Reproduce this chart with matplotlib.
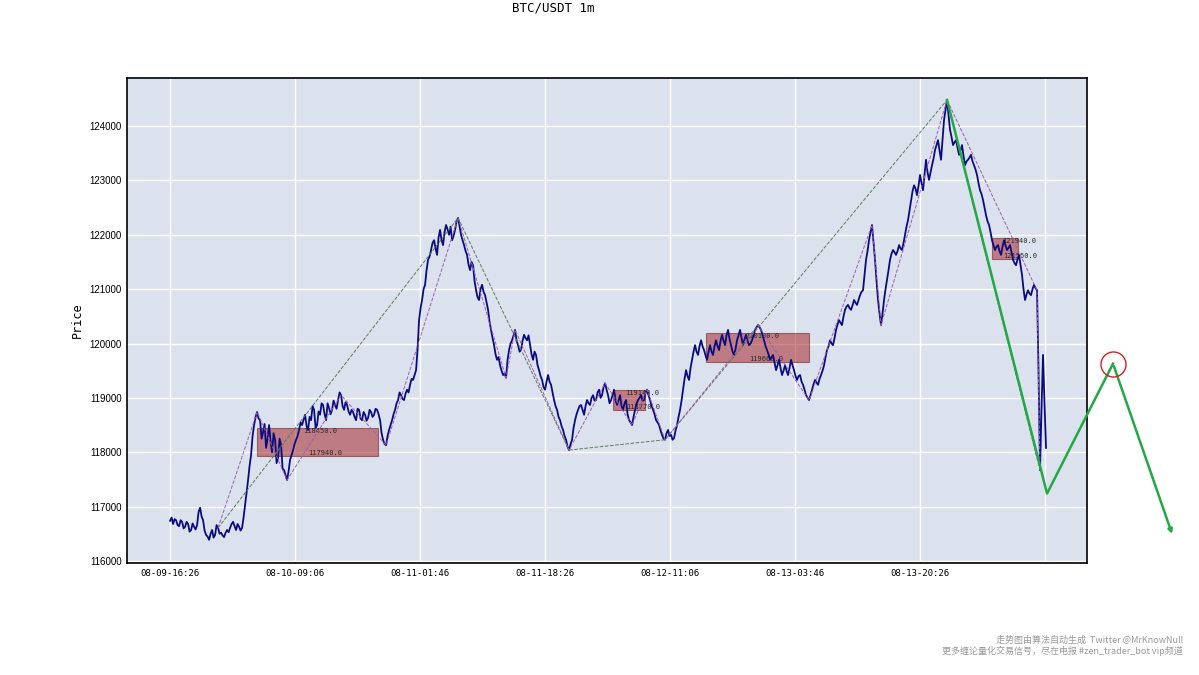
import numpy as np
import matplotlib
matplotlib.use('Agg')
import matplotlib.pyplot as plt
from matplotlib.patches import Rectangle

plt.rcParams['font.family'] = ['Liberation Sans', 'DejaVu Sans']
MONO = ['DejaVu Sans Mono', 'Noto Sans CJK SC']

# 1m closes, one value every 24 bars
close = [
    116740, 116680, 116750, 116640, 116720, 116630, 116680, 116570, 116630, 116660,
    116980, 116750, 116480, 116390, 116570, 116480, 116610, 116520, 116440, 116570,
    116610, 116720, 116570, 116630, 116610, 117030, 117490, 117950, 118500, 118740,
    118590, 118370, 118080, 118500, 118000, 118230, 117890, 118130, 117670, 117490,
    117860, 118040, 118230, 118410, 118500, 118690, 118410, 118590, 118780, 118500,
    118690, 118870, 118590, 118810, 118780, 118870, 118960, 119050, 118780, 118870,
    118690, 118740, 118590, 118780, 118590, 118690, 118630, 118740, 118690, 118780,
    118590, 118230, 118130, 118410, 118590, 118780, 118960, 119050, 118960, 119150,
    119240, 119330, 119510, 120430, 120800, 121080, 121540, 121720, 121900, 121630,
    122090, 121810, 122180, 122000, 121900, 122090, 122310, 122000, 121810, 121630,
    121350, 121440, 120980, 120800, 121080, 120890, 120620, 120250, 119970, 119700,
    119600, 119420, 119370, 119880, 120060, 120250, 119970, 119880, 120160, 120060,
    119970, 119700, 119790, 119510, 119330, 119150, 119420, 119240, 118960, 118780,
    118590, 118410, 118230, 118040, 118230, 118590, 118780, 118870, 118690, 118960,
    118870, 119050, 118960, 119150, 119050, 119270, 119050, 118960, 119150, 118870,
    119050, 118780, 118960, 118590, 118500, 118780, 118960, 119050, 118960, 119150,
    118960, 118780, 118590, 118500, 118320, 118230, 118410, 118320, 118260, 118500,
    118780, 119150, 119510, 119330, 119700, 119970, 119790, 120060, 119880, 119700,
    119970, 119790, 120060, 119880, 120160, 119970, 120250, 119970, 119790, 120060,
    120250, 119970, 120160, 119970, 120060, 120250, 120340, 120250, 120060, 119880,
    119700, 119790, 119510, 119700, 119420, 119600, 119420, 119700, 119510, 119330,
    119420, 119240, 119050, 118960, 119150, 119330, 119240, 119420, 119600, 119880,
    120060, 119970, 120250, 120430, 120340, 120620, 120710, 120620, 120800, 120710,
    120890, 120980, 121540, 121900, 122180, 121540, 120800, 120340, 120800, 121170,
    121540, 121720, 121630, 121810, 121720, 122000, 122270, 122640, 122910, 122730,
    123100, 122820, 123380, 123010, 123280, 123560, 123740, 123380, 124110, 124480,
    123930, 123650, 123740, 123470, 123650, 123280, 123380, 123470, 123280, 123100,
    122820, 122640, 122360, 122180, 121900, 121720, 121810, 121630, 121900, 121720,
    121810, 121540, 121440, 121630, 121260, 120800, 120980, 120890, 121080, 120980,
    117670, 119790, 118080,
]
# in-between closes (12 bars after each value above)
close_mid = [
    116800, 116770, 116660, 116750, 116600, 116720, 116540, 116690, 116580, 116900,
    116820, 116560, 116450, 116500, 116430, 116660, 116500, 116470, 116520, 116530,
    116680, 116640, 116680, 116560, 116800, 117250, 117750, 118300, 118650, 118620,
    118250, 118520, 118250, 118200, 118350, 117800, 118250, 117700, 117580, 117650,
    117950, 118150, 118300, 118550, 118600, 118480, 118650, 118850, 118450, 118750,
    118900, 118700, 118900, 118700, 118950, 118800, 119100, 118850, 118920, 118750,
    118780, 118650, 118800, 118620, 118740, 118580, 118780, 118650, 118800, 118700,
    118350, 118150, 118300, 118500, 118700, 118900, 119100, 118980, 119080, 119100,
    119350, 119420, 119900, 120650, 121000, 121350, 121600, 121850, 121750, 121950,
    121900, 122050, 122100, 122150, 121980, 122250, 122150, 121900, 121700, 121450,
    121500, 121150, 120850, 121000, 120950, 120750, 120400, 120100, 119800, 119750,
    119500, 119450, 119700, 120000, 120150, 120050, 119850, 120050, 120100, 120150,
    119800, 119850, 119600, 119400, 119200, 119300, 119300, 119100, 118850, 118650,
    118480, 118300, 118100, 118150, 118450, 118700, 118850, 118780, 118850, 118900,
    119000, 118950, 119100, 119000, 119200, 119150, 118900, 119050, 118950, 118950,
    118850, 118900, 118700, 118550, 118650, 118900, 119000, 118950, 119100, 119050,
    118850, 118700, 118550, 118400, 118250, 118350, 118300, 118230, 118400, 118650,
    118950, 119350, 119400, 119550, 119850, 119850, 119950, 119950, 119780, 119850,
    119850, 119950, 119950, 120050, 120050, 120150, 120080, 119850, 119900, 120150,
    120100, 120080, 120050, 120000, 120150, 120300, 120300, 120150, 119950, 119800,
    119750, 119650, 119600, 119550, 119500, 119500, 119550, 119600, 119400, 119400,
    119300, 119150, 119000, 119050, 119250, 119280, 119350, 119500, 119750, 119950,
    120000, 120100, 120350, 120380, 120500, 120680, 120650, 120700, 120750, 120800,
    120950, 121250, 121700, 122050, 121850, 121150, 120550, 120550, 121000, 121350,
    121650, 121680, 121700, 121750, 121850, 122150, 122450, 122800, 122850, 122900,
    122950, 123100, 123150, 123150, 123400, 123650, 123550, 123750, 124300, 124200,
    123800, 123700, 123600, 123550, 123450, 123350, 123420, 123350, 123200, 122950,
    122750, 122500, 122250, 122050, 121800, 121780, 121700, 121780, 121800, 121760,
    121680, 121480, 121550, 121450, 121000, 120900, 120920, 121000, 121020, 119500,
    118800, 118900,
]
bar_step = 24

# swing lines (bar index, price)
major_x = [384, 2304, 3192, 3960, 6216, 6960]
major_y = [116610, 122310, 118040, 118230, 124480, 117670]
minor_x = [384, 696, 936, 1368, 1728, 2304, 2688, 2760, 3192, 3480, 3696, 3816, 3960, 4704, 5112, 5616, 5688, 6216, 6936, 6960]
minor_y = [116610, 118740, 117490, 119050, 118130, 122310, 119370, 120250, 118040, 119270, 118500, 119150, 118230, 120340, 118960, 122180, 120340, 124480, 120980, 117670]

# central zones: start bar, end bar, low, high
zone_start = [696, 3544, 4288, 6576]
zone_end = [1664, 3800, 5112, 6784]
zone_low = [117940.0, 118770.0, 119660.0, 121550.0]
zone_high = [118450.0, 119140.0, 120190.0, 121940.0]

# forecast path
fc_x = [6216, 7016, 7544, 8024]
fc_y = [124480, 117240, 119630, 116450]

tick_pos = [0, 1000, 2000, 3000, 4000, 5000, 6000, 7000]
tick_lab = ['08-09-16:26', '08-10-09:06', '08-11-01:46', '08-11-18:26',
            '08-12-11:06', '08-13-03:46', '08-13-20:26', '']

# merge both lists on the bar axis
bars = np.arange(len(close)) * bar_step
bars_mid = bars[:len(close_mid)] + bar_step // 2
px = np.concatenate([bars, bars_mid])
py = np.concatenate([close, close_mid])
order = np.argsort(px, kind='stable')
px, py = px[order], py[order]

fig = plt.figure(figsize=(11.99, 6.75), dpi=100)
ax = fig.add_axes([0.106, 0.166, 0.8006, 0.7184])
ax.set_facecolor('#dbe2ed')
ax.grid(True, color='white', linewidth=1.0)
ax.set_axisbelow(True)

for s, e, lo, hi in zip(zone_start, zone_end, zone_low, zone_high):
    ax.add_patch(Rectangle((s, lo), e - s, hi - lo, facecolor='#a8262a', alpha=0.55,
                           edgecolor='#6e1a1a', linewidth=0.8, zorder=2))
    ax.text(s + (e - s) * 0.38, hi, '%.1f' % hi, fontsize=5, color='#2a2a2a', va='top',
            family=MONO, zorder=3)
    ax.text(s + (e - s) * 0.42, lo, '%.1f' % lo, fontsize=5, color='#2a2a2a', va='bottom',
            family=MONO, zorder=3)

ax.plot(px, py, color='#0b0b80', linewidth=1.3, zorder=4)
ax.plot(major_x, major_y, color='#5c7a5c', linewidth=0.7, linestyle='--', zorder=5)
ax.plot(minor_x, minor_y, color='#9a5fb0', linewidth=0.7, linestyle='--', zorder=5)

ax.plot(fc_x[:-1], fc_y[:-1], color='#22a845', linewidth=1.8, clip_on=False, zorder=6)
ax.annotate('', xy=(fc_x[-1], fc_y[-1]), xytext=(fc_x[-2], fc_y[-2]),
            arrowprops=dict(arrowstyle='-|>', color='#22a845', lw=1.8, mutation_scale=6),
            annotation_clip=False, zorder=6)
ax.plot([fc_x[2]], [fc_y[2]], marker='o', markersize=18, markerfacecolor='none',
        markeredgecolor='#d42020', markeredgewidth=1.0, clip_on=False, zorder=7)

ax.set_xlim(-344, 7336)
ax.set_ylim(115964, 124883)
ax.set_xticks(tick_pos)
ax.set_xticklabels(tick_lab, fontsize=6.5, family=MONO)
ax.set_yticks(np.arange(116000, 124001, 1000))
ax.tick_params(axis='y', labelsize=7)
ax.tick_params(length=0, pad=4)
ax.set_ylabel('Price', fontsize=8.5, family=MONO)
for sp in ax.spines.values():
    sp.set_color('black')
    sp.set_linewidth(1.2)

fig.text(553 / 1199, 1 - 8 / 675, 'BTC/USDT 1m', ha='center', va='center', fontsize=9,
         family=MONO)
fig.text(1183 / 1199, 1 - 640 / 675, '走势图由算法自动生成  Twitter @MrKnowNull', ha='right',
         va='center', fontsize=6.5, color='#9a9a9a', family=['Noto Sans CJK SC', 'DejaVu Sans'])
fig.text(1183 / 1199, 1 - 651 / 675, '更多缠论量化交易信号，尽在电报 #zen_trader_bot vip频道', ha='right',
         va='center', fontsize=6.5, color='#9a9a9a', family=['Noto Sans CJK SC', 'DejaVu Sans'])

fig.savefig('out.png', dpi=100)
